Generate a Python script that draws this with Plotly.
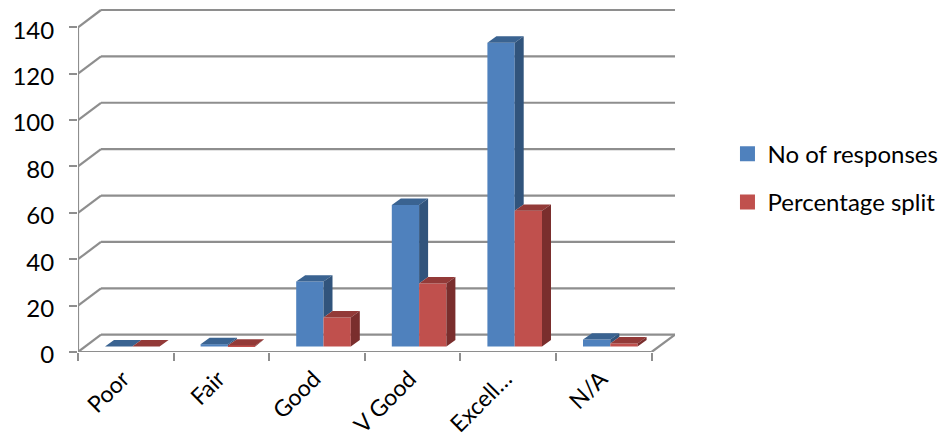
import plotly.graph_objects as go

categories = ["Poor", "Fair", "Good", "V Good", "Excell…", "N/A"]
responses = [0, 1, 28, 61, 131, 3]
percentage = [0, 0.4, 12.5, 27.2, 58.5, 1.3]
y_ticks = [0, 20, 40, 60, 80, 100, 120, 140]

BLUE, BLUE_SIDE, BLUE_TOP = "#4F81BD", "#31547C", "#3A6391"
RED, RED_SIDE, RED_TOP = "#C0504D", "#7A2E2D", "#933A38"
GRID = "#8E8E8E"

# axis-unit conversions
PX_X = 95.6
PX_Y = 2.318
WALL_X, WALL_Y = 23 / PX_X, 17.3 / PX_Y      # depth of the chart floor
BAR_W = 27.3 / PX_X
BAR_DX, BAR_DY = 9 / PX_X, 6.4 / PX_Y        # depth of each bar
SHIFT_X, BASE = 6.5 / PX_X, 5.5 / PX_Y       # bars sit part way into the floor
X_MAX = 597 / PX_X
TOP_PAD = 4                                   # px of room above the top gridline
Y_MAX = 140 + WALL_Y + TOP_PAD / PX_Y

fig = go.Figure()

blue_left = [i + 0.5 + SHIFT_X - BAR_W for i in range(len(categories))]
red_left = [x + BAR_W for x in blue_left]

for name, left, vals, col in [("No of responses", blue_left, responses, BLUE),
                              ("Percentage split", red_left, percentage, RED)]:
    fig.add_trace(go.Bar(x=[l + BAR_W / 2 for l in left], y=vals, base=BASE, width=BAR_W,
                         name=name, marker=dict(color=col, line=dict(width=0)),
                         showlegend=False))
    fig.add_trace(go.Scatter(x=[None], y=[None], mode="markers", name=name, legendgroup=name,
                             marker=dict(symbol="square", size=15, color=col, line=dict(width=0))))


def faces(left, vals, occluder=None):
    top_x, top_y, side_x, side_y = [], [], [], []
    for k, (l, v) in enumerate(zip(left, vals)):
        t = v + BASE
        r = l + BAR_W
        top_x += [l, r, r + BAR_DX, l + BAR_DX, l, None]
        top_y += [t, t, t + BAR_DY, t + BAR_DY, t, None]
        low = BASE if occluder is None else occluder[k] + BASE
        side_x += [r, r + BAR_DX, r + BAR_DX, r, r, None]
        side_y += [low, low + BAR_DY, t + BAR_DY, t, low, None]
    return top_x, top_y, side_x, side_y


for left, vals, occ, c_top, c_side in [(blue_left, responses, percentage, BLUE_TOP, BLUE_SIDE),
                                       (red_left, percentage, None, RED_TOP, RED_SIDE)]:
    tx, ty, sx, sy = faces(left, vals, occ)
    for xs, ys, c in [(tx, ty, c_top), (sx, sy, c_side)]:
        fig.add_trace(go.Scatter(x=xs, y=ys, mode="lines", fill="toself", fillcolor=c,
                                 line=dict(width=0, color=c), hoverinfo="skip", showlegend=False))

line = dict(color=GRID, width=2.2)
shapes = []
for v in y_ticks:
    shapes.append(dict(type="line", xref="x", yref="y", layer="below", x0=0, y0=v,
                       x1=WALL_X, y1=v + WALL_Y, line=line))
    shapes.append(dict(type="line", xref="x", yref="y", layer="below", x0=WALL_X, y0=v + WALL_Y,
                       x1=X_MAX, y1=v + WALL_Y, line=line))
shapes.append(dict(type="line", xref="x", yref="y", layer="below", x0=0, y0=0, x1=0, y1=140, line=line))
shapes.append(dict(type="line", xref="x", yref="y", layer="below", x0=0, y0=0,
                   x1=len(categories), y1=0, line=line))
shapes.append(dict(type="line", xref="x", yref="y", layer="below", x0=len(categories), y0=0,
                   x1=X_MAX, y1=WALL_Y, line=line))

FONT = "Lato"
SIZE = 24
fig.update_layout(
    width=946, height=442,
    margin=dict(l=78, r=271, t=10 - TOP_PAD, b=90.2, autoexpand=False),
    paper_bgcolor="white", plot_bgcolor="white",
    barmode="overlay", shapes=shapes,
    font=dict(family=FONT, size=SIZE, color="#000000"),
    legend=dict(xref="container", yref="container", x=0.769, y=0.702, xanchor="left", yanchor="top",
                tracegroupgap=14, font=dict(family=FONT, size=SIZE, color="#000000"),
                bgcolor="rgba(0,0,0,0)"),
    xaxis=dict(range=[0, X_MAX], tickmode="array", tickvals=[i + 0.5 for i in range(len(categories))],
               ticktext=categories, tickangle=-45, ticks="", showgrid=False, zeroline=False,
               showline=False, ticklabelstandoff=8, ticklabelshift=-3, tickfont=dict(size=23),
               minor=dict(tickmode="array", tickvals=list(range(len(categories) + 1)), ticks="outside",
                          ticklen=8, tickwidth=2, tickcolor=GRID, showgrid=False)),
    yaxis=dict(range=[0, Y_MAX], tickmode="array", tickvals=y_ticks, ticks="outside", ticklen=8,
               tickwidth=2, tickcolor=GRID, showgrid=False, zeroline=False, showline=False,
               ticklabelstandoff=10, ticklabelshift=3),
)

fig.write_html("out.html", config={"displayModeBar": False},
               post_script="document.body.style.margin='0';window.dispatchEvent(new Event('resize'));")
